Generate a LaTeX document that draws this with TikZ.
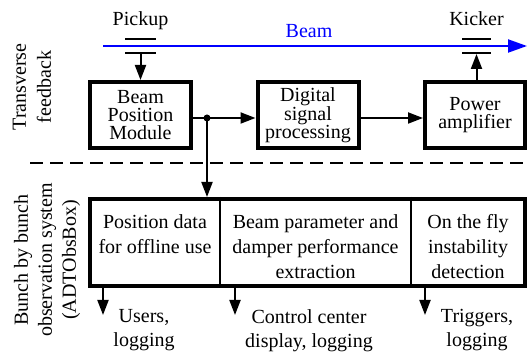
\documentclass[tikz,border=0pt]{standalone}
\usepackage{fontspec}
\setmainfont{Liberation Serif}
\usetikzlibrary{arrows.meta,positioning,calc}

\tikzset{
  blk/.style={draw, line width=4pt, minimum width=101pt, minimum height=66pt,
    inner sep=0pt, align=center, font=\fontsize{20}{18}\selectfont},
  txt/.style={inner sep=0pt, align=center, font=\fontsize{20}{24}\selectfont},
  celltxt/.style={txt, anchor=north, font=\fontsize{20}{25}\selectfont},
  sig/.style={line width=2pt, -{Triangle[length=15pt,width=11pt]}},
  plate/.style={line width=2pt},
}

\begin{document}
\begin{tikzpicture}[x=1pt, y=-1pt]
      \useasboundingbox (0,0) rectangle (527,352);

      % beam and the two plate pairs
      \coordinate (beamstart) at (103,46);
      \coordinate (beamend) at (527,46);
      \draw[blue, line width=2pt, -{Triangle[length=19pt,width=13pt]}] (beamstart) -- (beamend);
      \node[txt, blue, anchor=base] (beamlbl) at (309,38) {Beam};

      \coordinate (pickup) at (140.5,54);
      \coordinate (kicker) at (476.5,54);
      \draw[plate] (125,39) -- (156,39);
      \draw[plate] (125,53) -- (156,53);
      \draw[plate] (462,39) -- (491,39);
      \draw[plate] (462,53) -- (491,53);
      \node[txt, anchor=base] (pickuplbl) at (140.5,26) {Pickup};
      \node[txt, anchor=base] (kickerlbl) at (476.5,26) {Kicker};

      % transverse feedback chain
      \node[blk] (bpm) at (140.5,115) {Beam\\Position\\Module};
      \node[blk] (dsp) at (308,115) {Digital\\signal\\processing};
      \node[blk, minimum width=100pt] (pa) at (475,115) {Power\\amplifier};

      \coordinate (tap) at (207,118);
      \draw[sig] (pickup) -- (pickup |- bpm.north);
      \draw[line width=2pt] (bpm.east |- tap) -- (tap);
      \draw[sig] (tap) -- (tap -| dsp.west);
      \draw[sig] (dsp.east |- tap) -- (pa.west |- tap);
      \draw[sig] (pa.north -| kicker) -- (kicker);
      \fill (tap) circle (3.5pt);

      \draw[line width=2pt, dash pattern=on 13pt off 7pt] (30,163) -- (527,163);

      % observation box
      \node[draw, line width=4pt, minimum width=435pt, minimum height=87.5pt] (obs) at (307.5,242.75) {};
      \coordinate (div1) at (220,0);
      \coordinate (div2) at (411,0);
      \draw[line width=2pt] (obs.north -| div1) -- (obs.south -| div1);
      \draw[line width=2pt] (obs.north -| div2) -- (obs.south -| div2);
      \draw[sig] (tap) -- (tap |- obs.north);

      \node[celltxt] (posdata) at (155,214) {Position data\\for offline use};
      \node[celltxt] (params) at (315.5,214) {Beam parameter and\\damper performance\\extraction};
      \node[celltxt] (instab) at (468,214) {On the fly\\instability\\detection};

      \coordinate (out1) at (103,315);
      \coordinate (out2) at (235,315);
      \coordinate (out3) at (425,315);
      \draw[sig] (obs.south -| out1) -- (out1);
      \draw[sig] (obs.south -| out2) -- (out2);
      \draw[sig] (obs.south -| out3) -- (out3);

      \node[txt, anchor=north] (users) at (144,309) {Users,\\logging};
      \node[txt, anchor=north] (control) at (309,309) {Control center\\display, logging};
      \node[txt, anchor=north] (triggers) at (477,309) {Triggers,\\logging};

      % side labels
      \node[txt, rotate=90, font=\fontsize{20}{25}\selectfont] (tfb) at (32,87) {Transverse\\feedback};
      \node[txt, rotate=90, font=\fontsize{20}{24}\selectfont] (bbb) at (47,260) {Bunch by bunch\\observation system\\(ADTObsBox)};

    \end{tikzpicture}
\end{document}
